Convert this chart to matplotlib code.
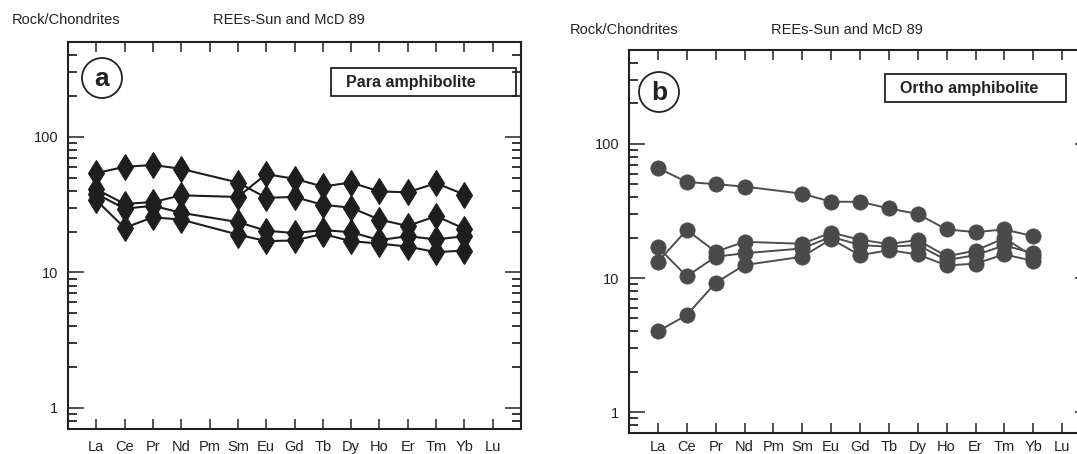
import matplotlib
matplotlib.use("Agg")
import matplotlib.pyplot as plt
from matplotlib.patches import Ellipse, Rectangle
from matplotlib.ticker import LogLocator, FixedLocator, NullFormatter

plt.rcParams['font.family'] = ['Liberation Sans', 'DejaVu Sans']

# ---------------- data ----------------
ree_labels = ["La", "Ce", "Pr", "Nd", "Pm", "Sm", "Eu", "Gd", "Tb", "Dy", "Ho", "Er", "Tm", "Yb", "Lu"]
measured = ["La", "Ce", "Pr", "Nd", "Sm", "Eu", "Gd", "Tb", "Dy", "Ho", "Er", "Tm", "Yb"]

# (a) Para amphibolite
para_1 = [54, 60, 62, 58, 46, 35.5, 36, 31.5, 30, 24.5, 22, 26, 21]
para_2 = [41, 32, 33, 37, 36, 53, 49, 43, 46, 39.5, 39, 45.5, 37.5]
para_3 = [38, 29.5, 31, 27.5, 23.5, 20.3, 19.5, 20.5, 19.8, 17.3, 18.5, 17.5, 18.5]
para_4 = [34, 21.3, 25.5, 24.5, 19, 17, 17.2, 19.2, 17, 16.3, 15.5, 14.1, 14.5]
para_series = [para_1, para_2, para_3, para_4]

# (b) Ortho amphibolite
ortho_1 = [66, 52, 50, 48, 42.5, 37, 37, 33, 30, 23, 22, 23, 20.5]
ortho_2 = [17, 10.3, 14.4, 15.3, 16.6, 20.3, 17.6, 17.1, 17.6, 13.6, 14.8, 17.5, 15.3]
ortho_3 = [13.2, 22.8, 15.7, 18.6, 18.0, 21.8, 19.3, 17.9, 19.2, 14.5, 16.0, 19.8, 14.5]
ortho_4 = [4.0, 5.3, 9.2, 12.5, 14.4, 19.5, 14.8, 16.1, 15.0, 12.4, 12.8, 15.0, 13.4]
ortho_series = [ortho_1, ortho_2, ortho_3, ortho_4]

y_ticks = [1, 10, 100]
y_tick_labels = ["1", "10", "100"]

# ---------------- figure ----------------
W, H = 1077, 454
fig = plt.figure(figsize=(W / 100, H / 100), dpi=100)

def px_axes(left, right, top, bottom):
    return fig.add_axes([left / W, (H - bottom) / H, (right - left) / W, (bottom - top) / H])

ax_a = px_axes(68, 521, 42, 429)
ax_b = px_axes(629, 1091, 50, 433)

xpos = [ree_labels.index(e) + 1 for e in measured]

def style_axis(ax, xpad):
    ax.set_yscale('log')
    ax.set_ylim(0.7, 500)
    ax.set_xlim(0, len(ree_labels) + 1)
    ax.xaxis.set_major_locator(FixedLocator(range(1, len(ree_labels) + 1)))
    ax.set_xticklabels(ree_labels, fontsize=10.5)
    ax.yaxis.set_major_locator(FixedLocator(y_ticks))
    ax.set_yticklabels(y_tick_labels, fontsize=10.5)
    ax.yaxis.set_minor_locator(LogLocator(base=10, subs=range(2, 10), numticks=20))
    ax.yaxis.set_minor_formatter(NullFormatter())
    ax.tick_params(axis='x', which='major', direction='in', length=7.5, width=1.1,
                   top=True, bottom=True, pad=xpad, colors='#222222')
    ax.tick_params(axis='y', which='major', direction='in', length=11.5, width=1.1,
                   left=True, right=True, pad=7, colors='#222222')
    ax.tick_params(axis='y', which='minor', direction='in', length=6.5, width=1.1,
                   left=True, right=True)
    ax.tick_params(labelcolor='#222222')
    for s in ax.spines.values():
        s.set_linewidth(1.5)
        s.set_color('#222222')

style_axis(ax_a, 8)
style_axis(ax_b, 5)

for ser in para_series:
    ax_a.plot(xpos, ser, color='#1e1e1e', lw=1.5, marker='d', ms=13,
              mfc='#1e1e1e', mec='#1e1e1e', mew=0.8, zorder=3)

for ser in ortho_series:
    ax_b.plot(xpos, ser, color='#4e4e4e', lw=1.4, marker='o', ms=11,
              mfc='#4a4a4a', mec='#4a4a4a', mew=0.5, zorder=3)

# panel letters in circles
def panel_letter(cx, cy, letter):
    r = 20
    fig.patches.append(Ellipse((cx / W, (H - cy) / H), 2 * r / W, 2 * r / H,
                               transform=fig.transFigure, fill=False, ec='#222222', lw=1.3))
    fig.text(cx / W, (H - cy - 1) / H, letter, ha='center', va='center',
             fontsize=19, fontweight='bold', color='#222222')

panel_letter(102, 78, 'a')
panel_letter(659, 92, 'b')

# label boxes
def label_box(x0, x1, y0, y1, text):
    fig.patches.append(Rectangle((x0 / W, (H - y1) / H), (x1 - x0) / W, (y1 - y0) / H,
                                 transform=fig.transFigure, fill=False, ec='#222222', lw=1.3))
    fig.text((x0 + 15) / W, (H - (y0 + y1) / 2) / H, text, ha='left', va='center',
             fontsize=11.5, fontweight='bold', color='#222222')

label_box(331, 516, 68, 96, 'Para amphibolite')
label_box(885, 1066, 74, 102, 'Ortho amphibolite')

# header texts
fig.text(12 / W, (H - 20) / H, 'Rock/Chondrites', ha='left', va='center', fontsize=10.5, color='#222222')
fig.text(213 / W, (H - 20) / H, 'REEs-Sun and McD 89', ha='left', va='center', fontsize=10.5, color='#222222')
fig.text(570 / W, (H - 30) / H, 'Rock/Chondrites', ha='left', va='center', fontsize=10.5, color='#222222')
fig.text(771 / W, (H - 30) / H, 'REEs-Sun and McD 89', ha='left', va='center', fontsize=10.5, color='#222222')

fig.savefig('out.png', dpi=100)
